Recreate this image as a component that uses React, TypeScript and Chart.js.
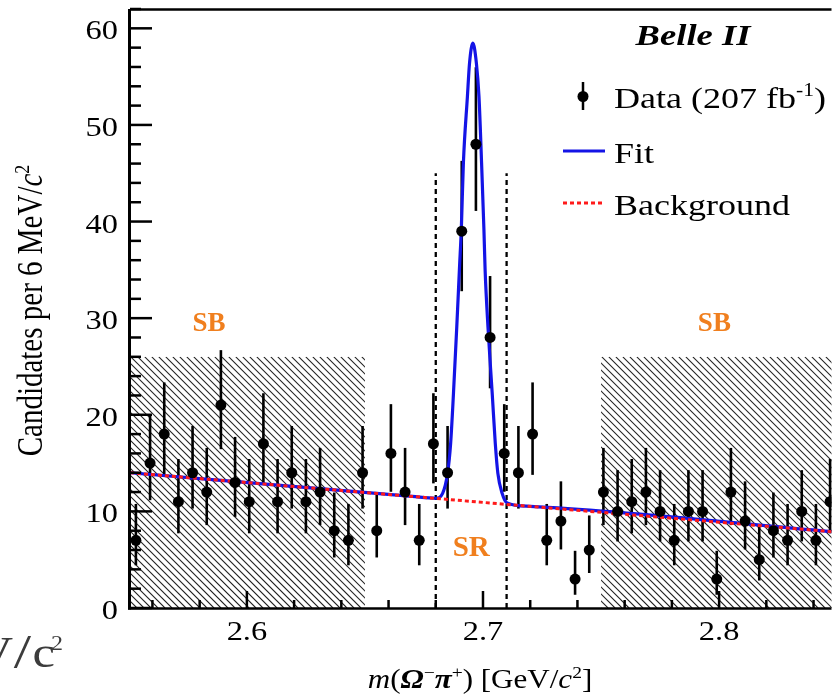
import { useEffect, useRef } from "react";
import { Chart, registerables } from "chart.js";

Chart.register(...registerables);

// ---- data ----
const binCenters = [
  2.553, 2.559, 2.565, 2.571, 2.577, 2.583, 2.589, 2.595, 2.601, 2.607,
  2.613, 2.619, 2.625, 2.631, 2.637, 2.643, 2.649, 2.655, 2.661, 2.667,
  2.673, 2.679, 2.685, 2.691, 2.697, 2.703, 2.709, 2.715, 2.721, 2.727,
  2.733, 2.739, 2.745, 2.751, 2.757, 2.763, 2.769, 2.775, 2.781, 2.787,
  2.793, 2.799, 2.805, 2.811, 2.817, 2.823, 2.829, 2.835, 2.841, 2.847,
];
const counts = [
  7, 15, 18, 11, 14, 12, 21, 13, 11, 17,
  11, 14, 11, 12, 8, 7, 14, 8, 16, 12,
  7, 17, 14, 39, 48, 28, 16, 14, 18, 7,
  9, 3, 6, 12, 10, 11, 12, 10, 7, 10,
  10, 3, 12, 9, 5, 8, 7, 10, 7, 11,
];
const errLow = [
  2.58, 3.84, 4.22, 3.27, 3.71, 3.42, 4.56, 3.57, 3.27, 4.10,
  3.27, 3.71, 3.27, 3.42, 2.77, 2.58, 3.71, 2.77, 3.97, 3.42,
  2.58, 4.10, 3.71, 6.21, 6.90, 5.26, 3.97, 3.71, 4.22, 2.58,
  2.94, 1.63, 2.38, 3.42, 3.11, 3.27, 3.42, 3.11, 2.58, 3.11,
  3.11, 1.63, 3.42, 2.94, 2.16, 2.77, 2.58, 3.11, 2.58, 3.27,
];
const errHigh = [
  3.77, 4.97, 5.35, 4.42, 4.84, 4.57, 5.69, 4.71, 4.42, 5.23,
  4.42, 4.84, 4.42, 4.57, 3.95, 3.77, 4.84, 3.95, 5.10, 4.57,
  3.77, 5.23, 4.84, 7.28, 7.97, 6.36, 5.10, 4.84, 5.35, 3.77,
  4.11, 2.92, 3.58, 4.57, 4.27, 4.42, 4.57, 4.27, 3.77, 4.27,
  4.27, 2.92, 4.57, 4.11, 3.38, 3.95, 3.77, 4.27, 3.77, 4.42,
];
const fitX = [
  2.5505, 2.67, 2.68, 2.6829, 2.685, 2.6863, 2.6875, 2.6889, 2.6901, 2.6908,
  2.6917, 2.6934, 2.6943, 2.6957, 2.6972, 2.6983, 2.6994, 2.7004, 2.7009, 2.7021,
  2.7039, 2.7052, 2.7063, 2.7081, 2.7102, 2.72, 2.8476,
];
const fitY = [
  14.0, 11.55, 11.36, 11.87, 13.94, 17.05, 22.23, 29.12, 35.5, 39.13,
  46.07, 52.93, 56.39, 58.46, 56.39, 52.93, 46.07, 39.13, 34.99, 29.12,
  22.23, 17.05, 13.94, 11.87, 10.87, 10.52, 7.9,
];
const bkgX = [2.5505, 2.8476];
const bkgY = [14.0, 7.9];
const xTickLabels = [2.6, 2.7, 2.8];
const yTickLabels = [0, 10, 20, 30, 40, 50, 60];
const sidebands = [
  [2.5505, 2.65],
  [2.75, 2.8476],
];
const sidebandTop = 26;
const signalEdges = [2.68, 2.71];
const signalLineTop = 45;
const sbLabelX = [2.584, 2.798];

const X_MIN = 2.5505;
const X_MAX = 2.8476;
const Y_MIN = 0;
const Y_MAX = 62;

const SERIF = "'Liberation Serif', 'Times New Roman', serif";
const SX = 1.2;
const ORANGE = "#f07f1e";

type Part = { t: string; font: string; dy?: number };

function drawParts(ctx: CanvasRenderingContext2D, parts: Part[], x: number, y: number, align: "left" | "center" | "right") {
  let total = 0;
  const widths = parts.map((p) => {
    ctx.font = p.font;
    const w = ctx.measureText(p.t).width;
    total += w;
    return w;
  });
  let cx = align === "left" ? x : align === "center" ? x - total / 2 : x - total;
  ctx.textAlign = "left";
  ctx.textBaseline = "alphabetic";
  parts.forEach((p, i) => {
    ctx.font = p.font;
    ctx.fillText(p.t, cx, y + (p.dy || 0));
    cx += widths[i];
  });
}

function drawStretched(ctx: CanvasRenderingContext2D, parts: Part[], x: number, y: number, align: "left" | "center" | "right", sx = SX) {
  ctx.save();
  ctx.translate(x, y);
  ctx.scale(sx, 1);
  drawParts(ctx, parts, 0, 0, align);
  ctx.restore();
}

const decorPlugin = {
  id: "decor",
  beforeDatasetsDraw(chart: any) {
    const { ctx, scales } = chart;
    const xs = scales.x;
    const ys = scales.y;
    ctx.save();
    // hatched side-band boxes
    for (const [a, b] of sidebands) {
      const x0 = xs.getPixelForValue(a);
      const x1 = xs.getPixelForValue(b);
      const yTop = ys.getPixelForValue(sidebandTop);
      const yBot = ys.getPixelForValue(0);
      const H = yBot - yTop;
      ctx.save();
      ctx.beginPath();
      ctx.rect(x0, yTop, x1 - x0, H);
      ctx.clip();
      ctx.strokeStyle = "#262626";
      ctx.lineWidth = 1.1;
      ctx.beginPath();
      for (let s = x0 - H; s < x1; s += 7) {
        ctx.moveTo(s, yTop);
        ctx.lineTo(s + H, yBot);
      }
      ctx.stroke();
      ctx.restore();
    }
    // signal region dashed lines
    ctx.strokeStyle = "#000";
    ctx.lineWidth = 2.3;
    ctx.setLineDash([5, 4]);
    for (const e of signalEdges) {
      const px = xs.getPixelForValue(e);
      ctx.beginPath();
      ctx.moveTo(px, ys.getPixelForValue(0));
      ctx.lineTo(px, ys.getPixelForValue(signalLineTop));
      ctx.stroke();
    }
    ctx.setLineDash([]);
    // error bars
    ctx.lineWidth = 2.6;
    binCenters.forEach((c, i) => {
      const px = xs.getPixelForValue(c);
      ctx.beginPath();
      ctx.moveTo(px, ys.getPixelForValue(counts[i] - errLow[i]));
      ctx.lineTo(px, ys.getPixelForValue(counts[i] + errHigh[i]));
      ctx.stroke();
    });
    ctx.restore();
  },
  afterDraw(chart: any) {
    const { ctx, chartArea, scales } = chart;
    const xs = scales.x;
    const ys = scales.y;
    const { left, right, top, bottom } = chartArea;
    ctx.save();
    ctx.strokeStyle = "#000";
    ctx.fillStyle = "#000";
    ctx.setLineDash([]);
    // frame
    ctx.lineWidth = 2.5;
    ctx.beginPath();
    ctx.moveTo(left, top + 0.5);
    ctx.lineTo(right, top + 0.5);
    ctx.stroke();
    ctx.lineWidth = 3;
    ctx.beginPath();
    ctx.moveTo(left - 0.5, top);
    ctx.lineTo(left - 0.5, bottom + 1.5);
    ctx.stroke();
    ctx.lineWidth = 2.5;
    ctx.beginPath();
    ctx.moveTo(left - 2, bottom + 0.5);
    ctx.lineTo(right, bottom + 0.5);
    ctx.stroke();
    // y ticks
    ctx.lineWidth = 2.5;
    for (let v = Y_MIN; v <= Y_MAX + 1e-9; v += 2) {
      const py = ys.getPixelForValue(v);
      const major = Math.abs(v % 10) < 1e-9;
      ctx.beginPath();
      ctx.moveTo(left, py);
      ctx.lineTo(left + (major ? 22 : 11), py);
      ctx.stroke();
    }
    // x ticks
    for (let i = 0; ; i++) {
      const v = 2.56 + i * 0.02;
      if (v > X_MAX + 1e-9) break;
      const px = xs.getPixelForValue(v);
      const major = xTickLabels.some((t) => Math.abs(t - v) < 1e-6);
      ctx.beginPath();
      ctx.moveTo(px, bottom);
      ctx.lineTo(px, bottom - (major ? 17 : 8));
      ctx.stroke();
    }
    // tick labels
    const tickFont = `27px ${SERIF}`;
    for (const t of yTickLabels) {
      const py = ys.getPixelForValue(t);
      drawStretched(ctx, [{ t: String(t), font: tickFont }], 118, py + 11, "right");
    }
    for (const t of xTickLabels) {
      const px = xs.getPixelForValue(t);
      drawStretched(ctx, [{ t: t.toFixed(1), font: tickFont }], px, 640, "center");
    }
    // x title
    const f27 = `27px ${SERIF}`;
    const f27i = `italic 27px ${SERIF}`;
    const f27bi = `italic bold 27px ${SERIF}`;
    const f17 = `17px ${SERIF}`;
    drawStretched(
      ctx,
      [
        { t: "m", font: f27i },
        { t: "(", font: f27 },
        { t: "Ω", font: f27bi },
        { t: "−", font: f17, dy: -10 },
        { t: "π", font: f27bi },
        { t: "+", font: f17, dy: -10 },
        { t: ") [GeV/", font: f27 },
        { t: "c", font: f27i },
        { t: "2", font: f17, dy: -10 },
        { t: "]", font: f27 },
      ],
      480,
      688,
      "center",
      1.15
    );
    // y title
    ctx.save();
    ctx.translate(42, 310.5);
    ctx.rotate(-Math.PI / 2);
    ctx.scale(1, SX);
    drawParts(
      ctx,
      [
        { t: "Candidates per 6 MeV/", font: `29px ${SERIF}` },
        { t: "c", font: `italic 29px ${SERIF}` },
        { t: "2", font: `18px ${SERIF}`, dy: -11 },
      ],
      0,
      0,
      "center"
    );
    ctx.restore();
    // Belle II
    drawStretched(ctx, [{ t: "Belle II", font: `italic bold 30px ${SERIF}` }], 693, 45, "center", 1.22);
    // legend: data
    ctx.lineWidth = 2.5;
    ctx.beginPath();
    ctx.moveTo(583, 82);
    ctx.lineTo(583, 110);
    ctx.stroke();
    ctx.beginPath();
    ctx.arc(583, 96.5, 5.5, 0, Math.PI * 2);
    ctx.fill();
    const f30 = `30px ${SERIF}`;
    drawStretched(
      ctx,
      [
        { t: "Data (207 fb", font: f30 },
        { t: "-1", font: `18px ${SERIF}`, dy: -12 },
        { t: ")", font: f30 },
      ],
      614,
      108,
      "left"
    );
    // legend: fit
    ctx.strokeStyle = "#1414e6";
    ctx.lineWidth = 3;
    ctx.beginPath();
    ctx.moveTo(563, 151);
    ctx.lineTo(605, 151);
    ctx.stroke();
    drawStretched(ctx, [{ t: "Fit", font: f30 }], 614, 163, "left");
    // legend: background
    ctx.strokeStyle = "#ff1a1a";
    ctx.setLineDash([4, 3]);
    ctx.beginPath();
    ctx.moveTo(563, 203);
    ctx.lineTo(605, 203);
    ctx.stroke();
    ctx.setLineDash([]);
    drawStretched(ctx, [{ t: "Background", font: f30 }], 614, 215, "left");
    // SB / SR labels
    ctx.fillStyle = ORANGE;
    const fb = `bold 27px ${SERIF}`;
    for (const v of sbLabelX) {
      drawStretched(ctx, [{ t: "SB", font: fb }], xs.getPixelForValue(v), 331, "center", 1);
    }
    drawStretched(ctx, [{ t: "SR", font: `bold 29px ${SERIF}` }], (xs.getPixelForValue(signalEdges[0]) + xs.getPixelForValue(signalEdges[1])) / 2, 556, "center", 1);
    // cropped fragment of a neighbouring axis title
    ctx.fillStyle = "#3c3c3c";
    drawStretched(ctx, [{ t: "eV", font: `44px ${SERIF}` }], 13, 667, "right", 1.15);
    drawStretched(ctx, [{ t: "/", font: `48px ${SERIF}` }], 22.5, 668, "center", 1.3);
    drawStretched(ctx, [{ t: "c", font: `44px ${SERIF}` }], 55, 667, "right", 1.15);
    drawStretched(ctx, [{ t: "2", font: `20px ${SERIF}` }], 51, 650, "left");
    ctx.restore();
  },
};

export default function App() {
  const ref = useRef<HTMLCanvasElement | null>(null);
  useEffect(() => {
    if (!ref.current) return;
    const chart = new Chart(ref.current, {
      type: "scatter",
      data: {
        datasets: [
          {
            label: "Data (207 fb-1)",
            data: binCenters.map((c, i) => ({ x: c, y: counts[i] })),
            pointRadius: 5.5,
            pointBackgroundColor: "#000",
            pointBorderWidth: 0,
            showLine: false,
            order: 0,
          },
          {
            label: "Background",
            data: bkgX.map((v, i) => ({ x: v, y: bkgY[i] })),
            showLine: true,
            pointRadius: 0,
            borderColor: "#ff1a1a",
            borderWidth: 3,
            borderDash: [4, 3],
            order: 1,
          },
          {
            label: "Fit",
            data: fitX.map((v, i) => ({ x: v, y: fitY[i] })),
            showLine: true,
            pointRadius: 0,
            borderColor: "#1414e6",
            borderWidth: 3.2,
            cubicInterpolationMode: "monotone",
            order: 2,
          },
        ],
      },
      options: {
        animation: false,
        responsive: false,
        devicePixelRatio: 1,
        events: [],
        layout: { padding: { left: 0, right: 0, top: 9, bottom: 0 } },
        plugins: { legend: { display: false }, tooltip: { enabled: false } },
        scales: {
          x: {
            type: "linear",
            min: X_MIN,
            max: X_MAX,
            grid: { display: false },
            border: { display: false },
            ticks: { display: false },
            afterFit: (s: any) => {
              s.height = 87;
            },
          },
          y: {
            type: "linear",
            min: Y_MIN,
            max: Y_MAX,
            grid: { display: false },
            border: { display: false },
            ticks: { display: false },
            afterFit: (s: any) => {
              s.width = 130;
            },
          },
        },
      } as any,
      plugins: [decorPlugin],
    });
    return () => chart.destroy();
  }, []);
  return (
    <div style={{ position: "fixed", left: 0, top: 0, width: 837, height: 695, background: "#fff" }}>
      <canvas ref={ref} width={837} height={695} style={{ display: "block" }} />
    </div>
  );
}
